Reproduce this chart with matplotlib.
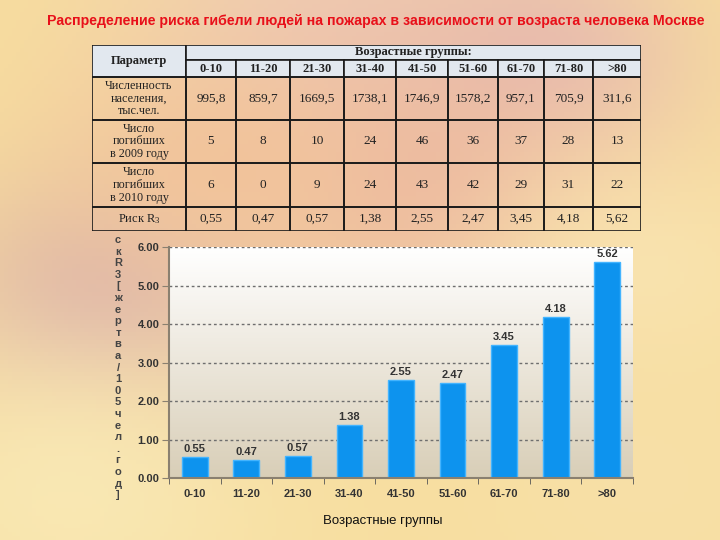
import numpy as np
import matplotlib.pyplot as plt
from matplotlib.patches import Rectangle

plt.rcParams["mathtext.fontset"] = "custom"
plt.rcParams["mathtext.rm"] = "Liberation Serif"
plt.rcParams["font.family"] = ["Liberation Sans", "DejaVu Sans"]

# -------------------------
# Data
# -------------------------

age_groups = ["0-10", "11-20", "21-30", "31-40", "41-50", "51-60", "61-70", "71-80", ">80"]
population = ["995,8", "859,7", "1669,5", "1738,1", "1746,9", "1578,2", "957,1", "705,9", "311,6"]
deaths_2009 = ["5", "8", "10", "24", "46", "36", "37", "28", "13"]
deaths_2010 = ["6", "0", "9", "24", "43", "42", "29", "31", "22"]
risk = [0.55, 0.47, 0.57, 1.38, 2.55, 2.47, 3.45, 4.18, 5.62]
row_labels = ["Численность\nнаселения,\nтыс.чел.", "Число\nпогибших\nв 2009 году",
              "Число\nпогибших\nв 2010 году", "Риск $\\mathregular{R_3}$"]
y_ticks = [0, 1, 2, 3, 4, 5, 6]

title = "Распределение риска гибели людей на пожарах в зависимости от возраста человека Москве"
ylabel_chars = list("скR3[жертва/105чел.год]")
xlabel = "Возрастные группы"

W, H = 720, 540
fig = plt.figure(figsize=(W / 100, H / 100), dpi=100)

# -------------------------
# Blurry warm background
# -------------------------
bg = fig.add_axes([0, 0, 1, 1])
gx, gy = np.meshgrid(np.linspace(0, 1, 180), np.linspace(0, 1, 135))
img = np.zeros((135, 180, 3))
img[:] = np.array([0.97, 0.87, 0.62])
blobs = [  # x, y, radius, colour
    (0.15, 0.55, 0.16, (0.84, 0.66, 0.66)),
    (0.45, 0.05, 0.20, (0.93, 0.78, 0.72)),
    (0.75, 0.10, 0.15, (0.90, 0.72, 0.70)),
    (0.60, 0.35, 0.18, (0.92, 0.70, 0.62)),
    (0.30, 0.30, 0.15, (0.95, 0.76, 0.60)),
    (0.88, 0.50, 0.15, (0.98, 0.90, 0.70)),
    (0.10, 0.90, 0.20, (0.98, 0.92, 0.72)),
    (0.90, 0.90, 0.20, (0.97, 0.88, 0.66)),
]
for bx, by, r, c in blobs:
    w = np.exp(-((gx - bx) ** 2 + (gy - by) ** 2) / (2 * r ** 2))[..., None]
    img = img * (1 - 0.8 * w) + np.array(c) * 0.8 * w
bg.imshow(img, extent=[0, 1, 0, 1], aspect="auto", origin="upper")
bg.set_axis_off()

# title: fit to the reference width (~657 px)
t = fig.text(376 / W, 1 - 21 / H, title, ha="center", va="center", color="#e8101a",
             fontsize=10, fontweight="bold")
r = fig.canvas.get_renderer()
tw = t.get_window_extent(renderer=r).width
t.set_fontsize(10 * 655 / tw)

# -------------------------
# Table
# -------------------------
tx0, ty0, tx1, ty1 = 92, 45, 641, 231
tab = fig.add_axes([tx0 / W, 1 - ty1 / H, (tx1 - tx0) / W, (ty1 - ty0) / H])
tab.set_xlim(0, tx1 - tx0)
tab.set_ylim(ty1 - ty0, 0)
tab.set_axis_off()

col_edges = [0, 94, 144, 198, 252, 304, 356, 406, 452, 501, 549]
row_edges = [32, 75, 118, 162, 186]
hdr_fill = "#e2e8ef"
serif = "Liberation Serif"
lw = 1.2


def cell(x0, y0, x1, y1, text, fill=None, bold=False, size=8):
    tab.add_patch(Rectangle((x0, y0), x1 - x0, y1 - y0, facecolor=fill if fill else "none",
                            edgecolor="#1a1a1a", linewidth=lw))
    tab.text((x0 + x1) / 2, (y0 + y1) / 2, text, ha="center", va="center", family=serif,
             fontsize=size, fontweight="bold" if bold else "normal", color="#222222",
             linespacing=1.1)


cell(col_edges[0], 0, col_edges[1], 32, "Параметр", hdr_fill, bold=True, size=9)
cell(col_edges[1], 0, col_edges[-1], 15, "Возрастные группы:", hdr_fill, bold=True, size=9)
for i, g in enumerate(age_groups):
    cell(col_edges[i + 1], 15, col_edges[i + 2], 32, g, hdr_fill, bold=True, size=9)

rows = [population, deaths_2009, deaths_2010, [("%.2f" % v).replace(".", ",") for v in risk]]
for k, (lab, vals) in enumerate(zip(row_labels, rows)):
    y0, y1 = row_edges[k], row_edges[k + 1]
    cell(col_edges[0], y0, col_edges[1], y1, lab, size=9 if k == 3 else 8.7)
    for i, v in enumerate(vals):
        cell(col_edges[i + 1], y0, col_edges[i + 2], y1, v, size=9.5)

# -------------------------
# Bar chart
# -------------------------
cx0, cy0, cx1, cy1 = 169, 247, 633, 478
ax = fig.add_axes([cx0 / W, 1 - cy1 / H, (cx1 - cx0) / W, (cy1 - cy0) / H])
n = len(age_groups)
ax.set_xlim(-0.5, n - 0.5)
ax.set_ylim(0, 6)

frac = np.linspace(0, 1, 100)[:, None, None]
top = np.array([1.0, 1.0, 1.0])
bot = np.array([0.85, 0.81, 0.72])
gimg = (top * (1 - frac) + bot * frac) * np.ones((100, 2, 1))
ax.imshow(gimg, extent=[-0.5, n - 0.5, 0, 6], aspect="auto", origin="upper", zorder=0)

for yv in y_ticks[1:]:
    ax.axhline(yv, color="#6e6e6e", linewidth=1, linestyle=(0, (2, 2)), zorder=1)

x = np.arange(n)
ax.bar(x, risk, width=0.5, color="#0d93ee", edgecolor="#43b4ff", linewidth=1, zorder=2)
for xi, v in zip(x, risk):
    ax.text(xi, v + 0.07, "%.2f" % v, ha="center", va="bottom", fontsize=8,
            fontweight="bold", color="#333333")

ax.set_xticks(x)
ax.set_xticklabels(age_groups, fontsize=8, fontweight="bold", color="#333333")
ax.tick_params(axis="x", which="major", length=0, pad=8)
ax.set_xticks(np.arange(n + 1) - 0.5, minor=True)
ax.tick_params(axis="x", which="minor", length=4, direction="out", color="#555555")
ax.set_yticks(y_ticks)
ax.set_yticklabels(["%.2f" % v for v in y_ticks], fontsize=8, fontweight="bold", color="#333333")
ax.tick_params(axis="y", length=5, color="#8a8070", pad=2)
for s in ["top", "right"]:
    ax.spines[s].set_visible(False)
for s in ["left", "bottom"]:
    ax.spines[s].set_color("#8a8070")
    ax.spines[s].set_linewidth(1.5)

for k, ch in enumerate(ylabel_chars):
    fig.text(118 / W, 1 - (240 + k * 11.6) / H, ch, ha="center", va="center",
             fontsize=8, fontweight="bold", color="#444444")

fig.text(383 / W, 1 - 521 / H, xlabel, ha="center", va="center", fontsize=9.5, color="#111111")

fig.savefig("out.png", dpi=100)
